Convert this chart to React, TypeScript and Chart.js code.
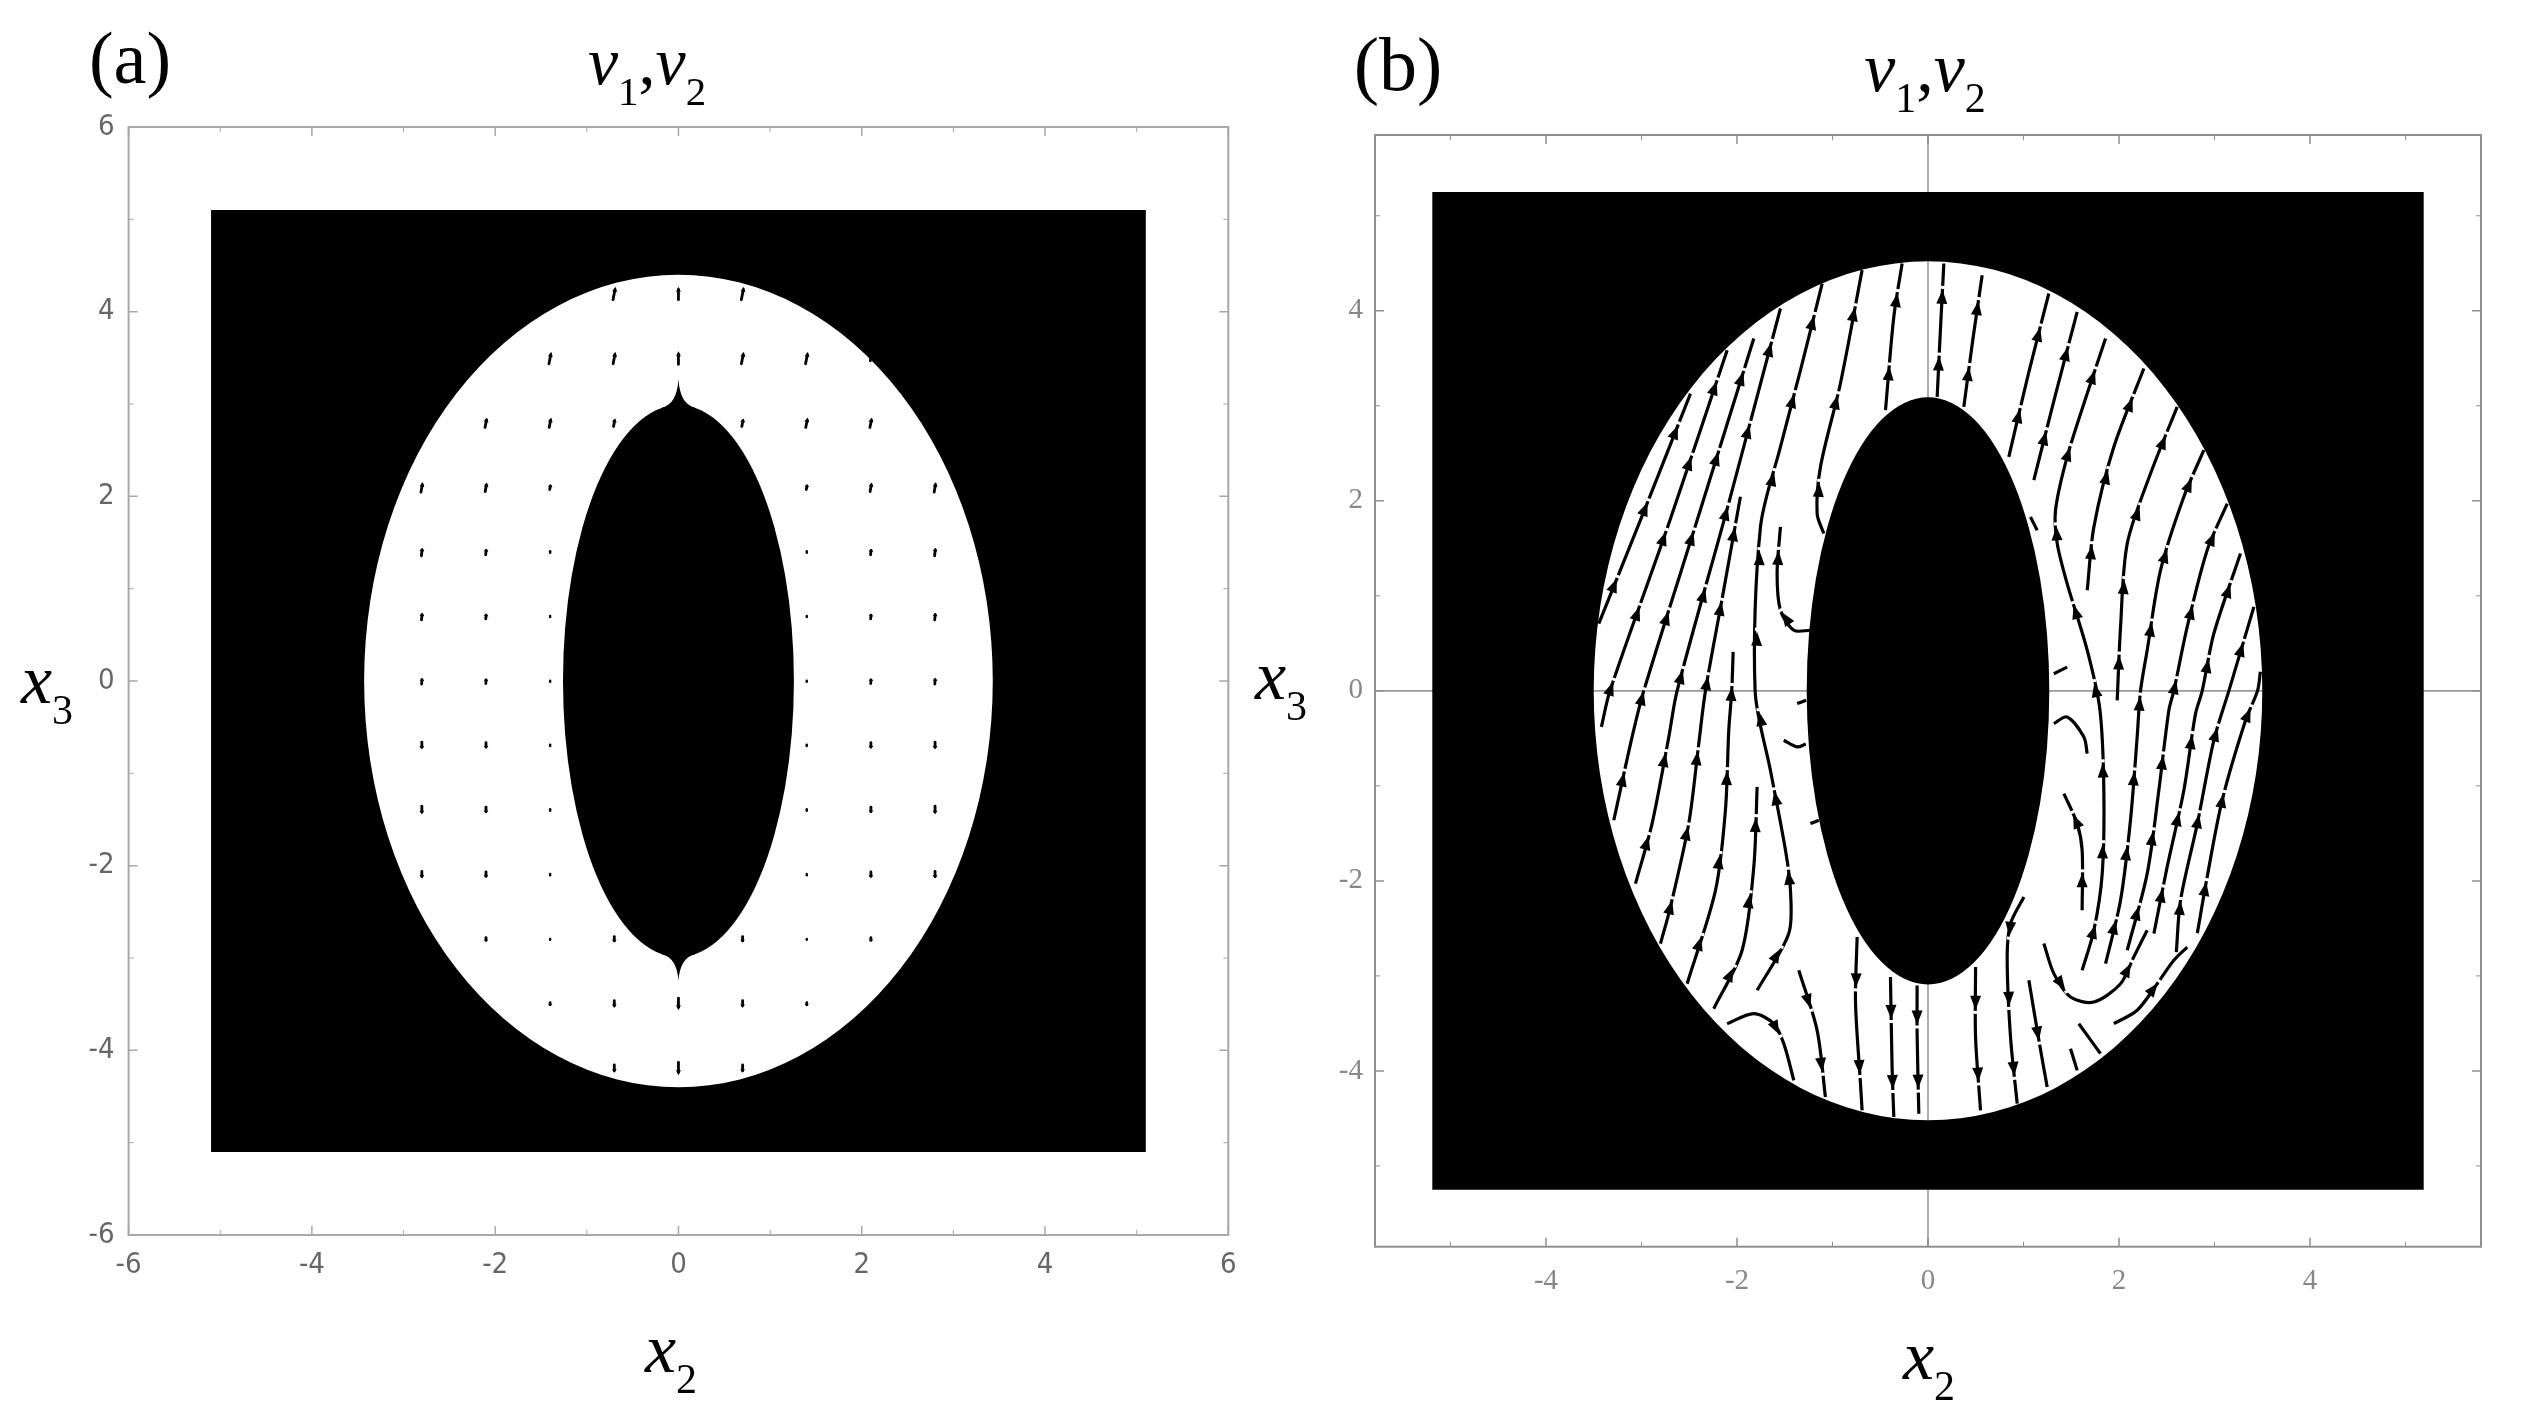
import React, { useEffect, useRef } from "react";
import { Chart, registerables } from "chart.js";
Chart.register(...registerables);

// ---------------- Panel (a) data ----------------
const aTicks = [-6, -4, -2, 0, 2, 4, 6];
const aMinor = [-5, -3, -1, 1, 3, 5];
const aRange = [-6, 6, -6, 6];
const aRect = [-5.1, 5.1, -5.1, 5.1];
const aOuter = [3.43, 4.4];
const aInner = [1.26, 2.99];
const aCusp = [3.27, -3.25];

const quiverX = [
  -0.7, 0, 0.7,
  -1.4, -0.7, 0, 0.7, 1.4, 2.1,
  -2.1, -1.4, -0.7, 0.7, 1.4, 2.1,
  -2.8, -2.1, -1.4, 1.4, 2.1, 2.8,
  -2.8, -2.1, -1.4, 1.4, 2.1, 2.8,
  -2.8, -2.1, -1.4, 1.4, 2.1, 2.8,
  -2.8, -2.1, -1.4, 1.4, 2.1, 2.8,
  -2.8, -2.1, -1.4, 1.4, 2.1, 2.8,
  -2.8, -2.1, -1.4, 1.4, 2.1, 2.8,
  -2.8, -2.1, -1.4, 1.4, 2.1, 2.8,
  -2.1, -1.4, -0.7, 0.7, 1.4, 2.1,
  -1.4, -0.7, 0, 0.7, 1.4,
  -0.7, 0, 0.7,
];
const quiverY = [
  4.2, 4.2, 4.2,
  3.5, 3.5, 3.5, 3.5, 3.5, 3.5,
  2.8, 2.8, 2.8, 2.8, 2.8, 2.8,
  2.1, 2.1, 2.1, 2.1, 2.1, 2.1,
  1.4, 1.4, 1.4, 1.4, 1.4, 1.4,
  0.7, 0.7, 0.7, 0.7, 0.7, 0.7,
  0, 0, 0, 0, 0, 0,
  -0.7, -0.7, -0.7, -0.7, -0.7, -0.7,
  -1.4, -1.4, -1.4, -1.4, -1.4, -1.4,
  -2.1, -2.1, -2.1, -2.1, -2.1, -2.1,
  -2.8, -2.8, -2.8, -2.8, -2.8, -2.8,
  -3.5, -3.5, -3.5, -3.5, -3.5,
  -4.2, -4.2, -4.2,
];
const quiverU = [
  0.028, 0, 0.028,
  0.026, 0.026, 0, 0.026, 0.026, 0.013,
  0.022, 0.022, 0.017, 0.017, 0.022, 0.022,
  0.02, 0.018, 0.01, 0.01, 0.018, 0.02,
  0.01, 0.008, 0, 0, 0.008, 0.01,
  0.008, 0.006, 0, 0, 0.006, 0.008,
  0.005, 0.004, 0, 0, 0.004, 0.005,
  0, 0, 0, 0, 0, 0,
  0, 0, 0, 0, 0, 0,
  0, 0, 0, 0, 0, 0,
  0, 0, 0, 0, 0, 0,
  0, 0, 0, 0, 0,
  0, 0, 0,
];
const quiverV = [
  0.141, 0.141, 0.141,
  0.13, 0.13, 0.141, 0.13, 0.13, 0.065,
  0.109, 0.109, 0.087, 0.087, 0.109, 0.109,
  0.109, 0.098, 0.054, 0.054, 0.098, 0.109,
  0.087, 0.065, 0.022, 0.022, 0.065, 0.087,
  0.076, 0.054, 0.016, 0.016, 0.054, 0.076,
  0.065, 0.054, 0.016, 0.016, 0.054, 0.065,
  -0.076, -0.065, -0.022, -0.022, -0.065, -0.076,
  -0.087, -0.065, -0.022, -0.022, -0.065, -0.087,
  -0.076, -0.065, -0.022, -0.022, -0.065, -0.076,
  -0.043, -0.011, -0.065, -0.065, -0.011, -0.043,
  -0.033, -0.076, -0.13, -0.076, -0.033,
  -0.087, -0.141, -0.087,
];

// ---------------- Panel (b) data ----------------
const bTicks = [-4, -2, 0, 2, 4];
const bMinor = [-5, -3, -1, 1, 3, 5];
const bRange = [-5.79, 5.79, -5.85, 5.85];
const bRect = [-5.19, 5.19, -5.25, 5.25];
const bOuter = [3.5, 4.52];
const bInner = [1.27, 3.09];

// streamlines, listed in flow order [x2, x3]
const sl01 = [[-3.447, 0.708], [-2.95, 1.95], [-2.487, 3.129]];
const sl02 = [[-3.42, -0.38], [-3.33, 0.0], [-2.7, 1.8], [-2.103, 3.585]];
const sl03 = [[-3.29, -1.362], [-3.098, -0.485], [-2.976, 0.0], [-2.4, 1.85], [-1.824, 3.708]];
const sl04 = [[-3.063, -2.029], [-2.889, -1.397], [-2.714, -0.485], [-2.627, 0.0], [-2.08, 2.0], [-1.545, 4.024]];
const sl05 = [[-2.801, -2.661], [-2.697, -2.275], [-2.505, -1.397], [-2.4, -0.555], [-2.33, 0.0], [-2.15, 1.0], [-1.964, 2.042]];
const sl06 = [[-2.522, -3.082], [-2.225, -2.099], [-2.121, -1.257], [-2.086, -0.415], [-2.055, 0.0], [-2.04, 0.41]];
const sl07 = [[-2.243, -3.345], [-1.946, -2.73], [-1.824, -1.853], [-1.789, -1.011]];
const sl08 = [[-1.789, -3.152], [-1.458, -2.555], [-1.44, -2.099], [-1.492, -1.678], [-1.65, -0.836], [-1.81, 0.0], [-1.754, 1.726], [-1.545, 2.568], [-1.335, 3.375], [-1.108, 4.287]];
const sl09 = [[-1.231, 0.638], [-1.405, 0.638], [-1.545, 0.849], [-1.58, 1.235], [-1.545, 1.726]];
const sl10 = [[-1.091, 1.656], [-1.161, 1.866], [-1.126, 2.357], [-0.917, 3.235], [-0.69, 4.428]];
const sl11 = [[-0.445, 2.954], [-0.358, 3.936], [-0.271, 4.498]];
const sl12 = [[0.096, 3.094], [0.13, 3.8], [0.166, 4.498]];
const sl13 = [[0.375, 2.989], [0.47, 3.7], [0.567, 4.375]];
const sl14 = [[0.846, 2.463], [1.05, 3.33], [1.265, 4.182]];
const sl15 = [[1.108, 2.217], [1.33, 3.1], [1.562, 3.989]];
const sl16 = [[1.614, -2.941], [1.737, -2.52], [1.824, -1.924], [1.841, -1.046], [1.8, -0.2], [1.667, 0.428], [1.457, 1.129], [1.353, 1.55], [1.335, 1.901], [1.457, 2.463], [1.667, 3.129], [1.859, 3.708]];
const sl17 = [[1.667, 1.059], [1.737, 1.726], [1.946, 2.568], [2.26, 3.392]];
const sl18 = [[1.981, -0.1], [2.016, 0.673], [2.086, 1.55], [2.33, 2.287], [2.609, 2.989]];
const sl19 = [[1.859, -2.871], [2.016, -2.204], [2.12, -1.362], [2.19, -0.485], [2.225, 0.0], [2.295, 0.428], [2.435, 1.27], [2.679, 2.042], [2.888, 2.533]];
const sl20 = [[2.086, -2.73], [2.295, -1.924], [2.417, -1.046], [2.522, -0.204], [2.574, 0.0], [2.714, 0.673], [2.923, 1.48], [3.133, 1.971]];
const sl21 = [[2.365, -2.555], [2.504, -1.853], [2.679, -1.046], [2.801, -0.24], [2.871, 0.0], [2.993, 0.603], [3.272, 1.445]];
const sl22 = [[2.6, -2.75], [2.644, -2.204], [2.82, -1.397], [2.993, -0.52], [3.15, 0.0], [3.412, 0.884]];
const sl23 = [[2.82, -2.55], [2.923, -1.958], [3.08, -1.152], [3.325, -0.31], [3.45, 0.0], [3.48, 0.2]];
const sl24 = [[1.213, -2.66], [1.318, -2.976], [1.492, -3.222], [1.737, -3.275], [2.016, -3.082], [2.155, -2.8], [2.295, -2.52]];
const sl25 = [[1.946, -3.503], [2.19, -3.362], [2.4, -3.082], [2.574, -2.836], [2.714, -2.696]];
const sl26 = [[1.614, -2.31], [1.614, -1.68], [1.562, -1.398], [1.423, -1.081]];
const sl27 = [[1.318, -0.345], [1.457, -0.275], [1.632, -0.485], [1.667, -0.66]];
const sl28 = [[1.004, -2.169], [0.864, -2.45], [0.829, -2.8], [0.864, -3.643], [0.934, -4.345]];
const sl29 = [[0.498, -2.906], [0.498, -3.643], [0.55, -4.415]];
const sl30 = [[1.056, -3.046], [1.161, -3.678], [1.248, -4.169]];
const sl31 = [[1.492, -3.766], [1.562, -3.994]];
const sl32 = [[1.579, -3.503], [1.806, -3.818]];
const sl33 = [[-2.103, -3.503], [-1.824, -3.397], [-1.615, -3.503], [-1.51, -3.713], [-1.405, -4.099]];
const sl34 = [[-1.353, -2.941], [-1.161, -3.573], [-1.074, -4.275]];
const sl35 = [[-0.742, -2.59], [-0.759, -3.275], [-0.707, -4.134], [-0.69, -4.415]];
const sl36 = [[-0.393, -3.011], [-0.376, -3.959], [-0.358, -4.485]];
const sl37 = [[-0.114, -3.1], [-0.114, -3.608], [-0.096, -4.45]];
const sl38 = [[-1.37, -0.134], [-1.276, -0.099]];
const sl39 = [[-1.51, -0.52], [-1.37, -0.59], [-1.28, -0.56]];
const sl40 = [[-1.231, -1.397], [-1.143, -1.362]];
const sl41 = [[1.073, 1.83], [1.143, 1.69]];
const sl42 = [[1.318, 0.18], [1.457, 0.25]];

const streamlines = [
  sl01, sl02, sl03, sl04, sl05, sl06, sl07, sl08, sl09, sl10,
  sl11, sl12, sl13, sl14, sl15, sl16, sl17, sl18, sl19, sl20,
  sl21, sl22, sl23, sl24, sl25, sl26, sl27, sl28, sl29, sl30,
  sl31, sl32, sl33, sl34, sl35, sl36, sl37, sl38, sl39, sl40,
  sl41, sl42,
];

// ---------------- helpers ----------------
const CW = 1262;
const CH = 1419;

function drawBlack(chart: any, rect: number[], outer: number[], inner: number[], cusp: number[] | null) {
  const { ctx, scales } = chart;
  const px = (v: number) => scales.x.getPixelForValue(v);
  const py = (v: number) => scales.y.getPixelForValue(v);
  const cx = px(0);
  const cy = py(0);
  ctx.save();
  ctx.fillStyle = "#000";
  ctx.beginPath();
  ctx.rect(px(rect[0]), py(rect[3]), px(rect[1]) - px(rect[0]), py(rect[2]) - py(rect[3]));
  const orx = px(outer[0]) - cx;
  const ory = cy - py(outer[1]);
  ctx.moveTo(cx + orx, cy);
  ctx.ellipse(cx, cy, orx, ory, 0, 0, Math.PI * 2);
  ctx.fill("evenodd");
  const irx = px(inner[0]) - cx;
  const iry = cy - py(inner[1]);
  ctx.beginPath();
  ctx.ellipse(cx, cy, irx, iry, 0, 0, Math.PI * 2);
  ctx.fill();
  if (cusp) {
    const w = 0.18;
    const by = inner[1] * Math.sqrt(1 - (w / inner[0]) ** 2);
    [1, -1].forEach((s, k) => {
      const tip = cusp[k];
      ctx.beginPath();
      ctx.moveTo(px(-w), py(s * by));
      ctx.quadraticCurveTo(px(-0.015), py(s * (inner[1] + 0.01)), px(0), py(tip));
      ctx.quadraticCurveTo(px(0.015), py(s * (inner[1] + 0.01)), px(w), py(s * by));
      ctx.lineTo(px(0), py(0));
      ctx.closePath();
      ctx.fill();
    });
  }
  ctx.restore();
}

function drawFrame(chart: any, major: number[], minor: number[], color: string) {
  const { ctx, chartArea: a, scales } = chart;
  ctx.save();
  ctx.strokeStyle = color;
  ctx.lineWidth = 2;
  ctx.strokeRect(a.left, a.top, a.right - a.left, a.bottom - a.top);
  const tick = (vals: number[], len: number) => {
    vals.forEach((v) => {
      const X = scales.x.getPixelForValue(v);
      const Y = scales.y.getPixelForValue(v);
      ctx.beginPath();
      ctx.moveTo(X, a.bottom); ctx.lineTo(X, a.bottom - len);
      ctx.moveTo(X, a.top); ctx.lineTo(X, a.top + len);
      ctx.moveTo(a.left, Y); ctx.lineTo(a.left + len, Y);
      ctx.moveTo(a.right, Y); ctx.lineTo(a.right - len, Y);
      ctx.stroke();
    });
  };
  ctx.lineWidth = 1.5;
  tick(major, 9);
  ctx.lineWidth = 1;
  tick(minor, 5);
  ctx.restore();
}

function arrowHead(ctx: any, x: number, y: number, dx: number, dy: number, len: number, half: number) {
  const n = Math.hypot(dx, dy) || 1;
  const ux = dx / n;
  const uy = dy / n;
  // small white gap behind the head, as in the reference
  ctx.save();
  ctx.strokeStyle = "#fff";
  ctx.lineWidth = 4.5;
  ctx.beginPath();
  ctx.moveTo(x + ux * (len * 0.5 + 1), y + uy * (len * 0.5 + 1));
  ctx.lineTo(x + ux * (len * 0.5 + 4), y + uy * (len * 0.5 + 4));
  ctx.stroke();
  ctx.restore();
  ctx.beginPath();
  ctx.moveTo(x + ux * len * 0.5, y + uy * len * 0.5);
  ctx.lineTo(x - ux * len * 0.5 - uy * half, y - uy * len * 0.5 + ux * half);
  ctx.lineTo(x - ux * len * 0.5 + uy * half, y - uy * len * 0.5 - ux * half);
  ctx.closePath();
  ctx.fill();
}

function scaleCfg(axis: string, min: number, max: number, ticks: number[], family: string, color: string, pad: number) {
  return {
    type: "linear",
    min,
    max,
    afterBuildTicks: (s: any) => {
      s.ticks = ticks.map((v) => ({ value: v }));
    },
    afterFit: (s: any) => {
      if (axis === "x") s.height = 60;
      else s.width = 60;
    },
    grid: { display: false, drawTicks: false },
    border: { display: false },
    ticks: {
      color,
      font: { family, size: 29 },
      padding: pad,
      autoSkip: false,
      maxRotation: 0,
      callback: (v: any) => String(v),
    },
  };
}

function makeConfigA() {
  const quiverPlugin = {
    id: "panelA",
    beforeDatasetsDraw(chart: any) {
      drawBlack(chart, aRect, aOuter, aInner, aCusp);
    },
    afterDatasetsDraw(chart: any) {
      const { ctx, scales } = chart;
      ctx.save();
      ctx.fillStyle = "#000";
      ctx.strokeStyle = "#000";
      ctx.lineCap = "round";
      for (let i = 0; i < quiverX.length; i++) {
        const x0 = scales.x.getPixelForValue(quiverX[i] - quiverU[i] / 2);
        const y0 = scales.y.getPixelForValue(quiverY[i] - quiverV[i] / 2);
        const x1 = scales.x.getPixelForValue(quiverX[i] + quiverU[i] / 2);
        const y1 = scales.y.getPixelForValue(quiverY[i] + quiverV[i] / 2);
        const L = Math.hypot(x1 - x0, y1 - y0);
        const h = Math.min(5, L * 0.45);
        const ux = (x1 - x0) / (L || 1);
        const uy = (y1 - y0) / (L || 1);
        ctx.lineWidth = L < 3 ? 2.4 : 2.8;
        ctx.beginPath();
        ctx.moveTo(x0, y0);
        ctx.lineTo(x1 - ux * h * 0.6, y1 - uy * h * 0.6);
        ctx.stroke();
        if (L >= 3) {
          ctx.beginPath();
          ctx.moveTo(x1, y1);
          ctx.lineTo(x1 - ux * h - uy * 2.4, y1 - uy * h + ux * 2.4);
          ctx.lineTo(x1 - ux * h + uy * 2.4, y1 - uy * h - ux * 2.4);
          ctx.closePath();
          ctx.fill();
        }
      }
      ctx.restore();
    },
    afterDraw(chart: any) {
      drawFrame(chart, aTicks, aMinor, "#a8a8a8");
    },
  };
  const fam = '"Liberation Sans Narrow","DejaVu Sans Condensed","Liberation Sans",sans-serif';
  return {
    type: "scatter",
    data: {
      datasets: [
        {
          data: quiverX.map((x, i) => ({ x, y: quiverY[i] })),
          pointRadius: 0,
          showLine: false,
        },
      ],
    },
    options: {
      responsive: false,
      animation: false,
      devicePixelRatio: 1,
      layout: { padding: { left: 128.6 - 60, top: 127, right: CW - 1228.3, bottom: CH - 1235 - 60 } },
      plugins: { legend: { display: false }, tooltip: { enabled: false }, title: { display: false } },
      events: [],
      scales: {
        x: scaleCfg("x", aRange[0], aRange[1], aTicks, fam, "#666", 13),
        y: scaleCfg("y", aRange[2], aRange[3], aTicks, fam, "#666", 14),
      },
    },
    plugins: [quiverPlugin],
  };
}

function makeConfigB() {
  const streamPlugin = {
    id: "panelB",
    beforeDatasetsDraw(chart: any) {
      const { ctx, chartArea: a, scales } = chart;
      const X0 = scales.x.getPixelForValue(0);
      const Y0 = scales.y.getPixelForValue(0);
      ctx.save();
      ctx.strokeStyle = "#9a9a9a";
      ctx.lineWidth = 1.6;
      ctx.beginPath();
      ctx.moveTo(X0, a.top); ctx.lineTo(X0, a.bottom);
      ctx.moveTo(a.left, Y0); ctx.lineTo(a.right, Y0);
      ctx.stroke();
      ctx.restore();
      drawBlack(chart, bRect, bOuter, bInner, null);
    },
    afterDatasetsDraw(chart: any) {
      const { ctx } = chart;
      ctx.save();
      ctx.fillStyle = "#000";
      chart.data.datasets.forEach((_: any, di: number) => {
        const pts = chart.getDatasetMeta(di).data.map((p: any) => [p.x, p.y]);
        const seg: number[] = [];
        let total = 0;
        for (let i = 1; i < pts.length; i++) {
          const d = Math.hypot(pts[i][0] - pts[i - 1][0], pts[i][1] - pts[i - 1][1]);
          seg.push(d);
          total += d;
        }
        if (total < 60) return;
        const n = Math.max(1, Math.round(total / 80));
        for (let k = 0; k < n; k++) {
          let s = (total * (k + 0.5)) / n;
          for (let i = 0; i < seg.length; i++) {
            if (s <= seg[i] || i === seg.length - 1) {
              const t = Math.min(1, s / seg[i]);
              const x = pts[i][0] + (pts[i + 1][0] - pts[i][0]) * t;
              const y = pts[i][1] + (pts[i + 1][1] - pts[i][1]) * t;
              arrowHead(ctx, x, y, pts[i + 1][0] - pts[i][0], pts[i + 1][1] - pts[i][1], 14, 5.5);
              break;
            }
            s -= seg[i];
          }
        }
      });
      ctx.restore();
    },
    afterDraw(chart: any) {
      drawFrame(chart, bTicks, bMinor, "#8f8f8f");
    },
  };
  const fam = '"Liberation Serif","Times New Roman",serif';
  return {
    type: "scatter",
    data: {
      datasets: streamlines.map((line) => ({
        data: line.map(([x, y]) => ({ x, y })),
        showLine: true,
        borderColor: "#000",
        borderWidth: 3.2,
        pointRadius: 0,
        tension: 0.3,
        fill: false,
      })),
    },
    options: {
      responsive: false,
      animation: false,
      devicePixelRatio: 1,
      layout: { padding: { left: 113 - 60, top: 135, right: CW - 1219, bottom: CH - 1246.7 - 60 } },
      plugins: { legend: { display: false }, tooltip: { enabled: false }, title: { display: false } },
      events: [],
      scales: {
        x: scaleCfg("x", bRange[0], bRange[1], bTicks, fam, "#888", 17),
        y: scaleCfg("y", bRange[2], bRange[3], bTicks, fam, "#888", 12),
      },
    },
    plugins: [streamPlugin],
  };
}

function Panel({ left, make }: { left: number; make: () => any }) {
  const ref = useRef<HTMLCanvasElement | null>(null);
  useEffect(() => {
    const chart = new Chart(ref.current as HTMLCanvasElement, make());
    return () => chart.destroy();
  }, []);
  return (
    <canvas
      ref={ref}
      width={CW}
      height={CH}
      style={{ position: "absolute", left, top: 0, width: CW, height: CH }}
    />
  );
}

const serif = '"Liberation Serif","Times New Roman",serif';

function Txt({ x, y, size, children }: { x: number; y: number; size: number; children: any }) {
  return (
    <div
      style={{
        position: "absolute",
        left: x,
        top: y,
        transform: "translate(-50%, -50%)",
        fontFamily: serif,
        fontSize: size,
        lineHeight: 1,
        whiteSpace: "nowrap",
        color: "#000",
      }}
    >
      {children}
    </div>
  );
}

const subStyle = { fontSize: "0.6em", fontStyle: "normal", verticalAlign: "-0.5em" } as const;

function Sym({ v, s }: { v: string; s: string }) {
  return (
    <span>
      <i>{v}</i>
      <span style={subStyle}>{s}</span>
    </span>
  );
}

export default function App() {
  return (
    <div
      style={{
        position: "fixed",
        left: 0,
        top: 0,
        width: 2524,
        height: 1419,
        background: "#fff",
        overflow: "hidden",
      }}
    >
      <Panel left={0} make={makeConfigA} />
      <Panel left={CW} make={makeConfigB} />
      <Txt x={130} y={58} size={74}>(a)</Txt>
      <Txt x={1398} y={64} size={76}>(b)</Txt>
      <Txt x={647} y={70} size={68}>
        <Sym v="v" s="1" />,<Sym v="v" s="2" />
      </Txt>
      <Txt x={1925} y={76} size={70}>
        <Sym v="v" s="1" />,<Sym v="v" s="2" />
      </Txt>
      <Txt x={671} y={1357} size={70}>
        <Sym v="x" s="2" />
      </Txt>
      <Txt x={1929} y={1364} size={70}>
        <Sym v="x" s="2" />
      </Txt>
      <Txt x={47} y={688} size={70}>
        <Sym v="x" s="3" />
      </Txt>
      <Txt x={1281} y={684} size={70}>
        <Sym v="x" s="3" />
      </Txt>
    </div>
  );
}
